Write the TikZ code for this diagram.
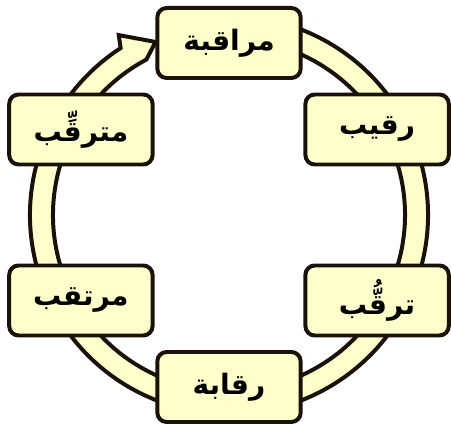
\documentclass[tikz,border=0pt]{standalone}
\usepackage{fontspec}
\newfontfamily\arabicfont[Script=Arabic]{DejaVu Sans}
\TeXXeTstate=1
\usepackage{xcolor}
\usepackage{tikz}
\usetikzlibrary{arrows.meta,positioning}
\definecolor{amarelo}{HTML}{FFFFCC}
\definecolor{contorno}{HTML}{1A1208}
\tikzset{
    caixa/.style={
        rectangle,
        draw=contorno,
        line width=3.4pt,
        fill=amarelo,
        rounded corners=8pt,
        align=center,
        minimum width=4.3cm,
        minimum height=2.1cm,
        font=\arabicfont\bfseries\fontsize{24}{28}\selectfont
    },
    anel/.style={draw=contorno, line width=3.4pt, fill=amarelo, line join=miter}
}
\begin{document}
\begin{tikzpicture}[x=0.03cm, y=0.03cm]
        \useasboundingbox (-229,-215) rectangle (222,215);

        % seta circular por baixo das caixas
        \filldraw[anel] (72:199) arc[start angle=72, end angle=-237, radius=199]
            -- (121.5:211) -- (113:188) -- (118:176)
            arc[start angle=118, end angle=432, radius=176] -- cycle;

        \node[caixa] (muraqaba) at (90:172) {\beginR مراقبة\endR};
        \node[caixa] (raqib) at (30:171) {\beginR رقيب\endR};
        \node[caixa] (taraqqub) at (-30:171) {\beginR ترقُّب\endR};
        \node[caixa] (raqaba) at (-90:172) {\beginR رقابة\endR};
        \node[caixa] (murtaqib) at (-150:171) {\beginR مرتقب\endR};
        \node[caixa] (mutaraqqib) at (150:171) {\beginR مترقِّب\endR};
    \end{tikzpicture}
\end{document}
